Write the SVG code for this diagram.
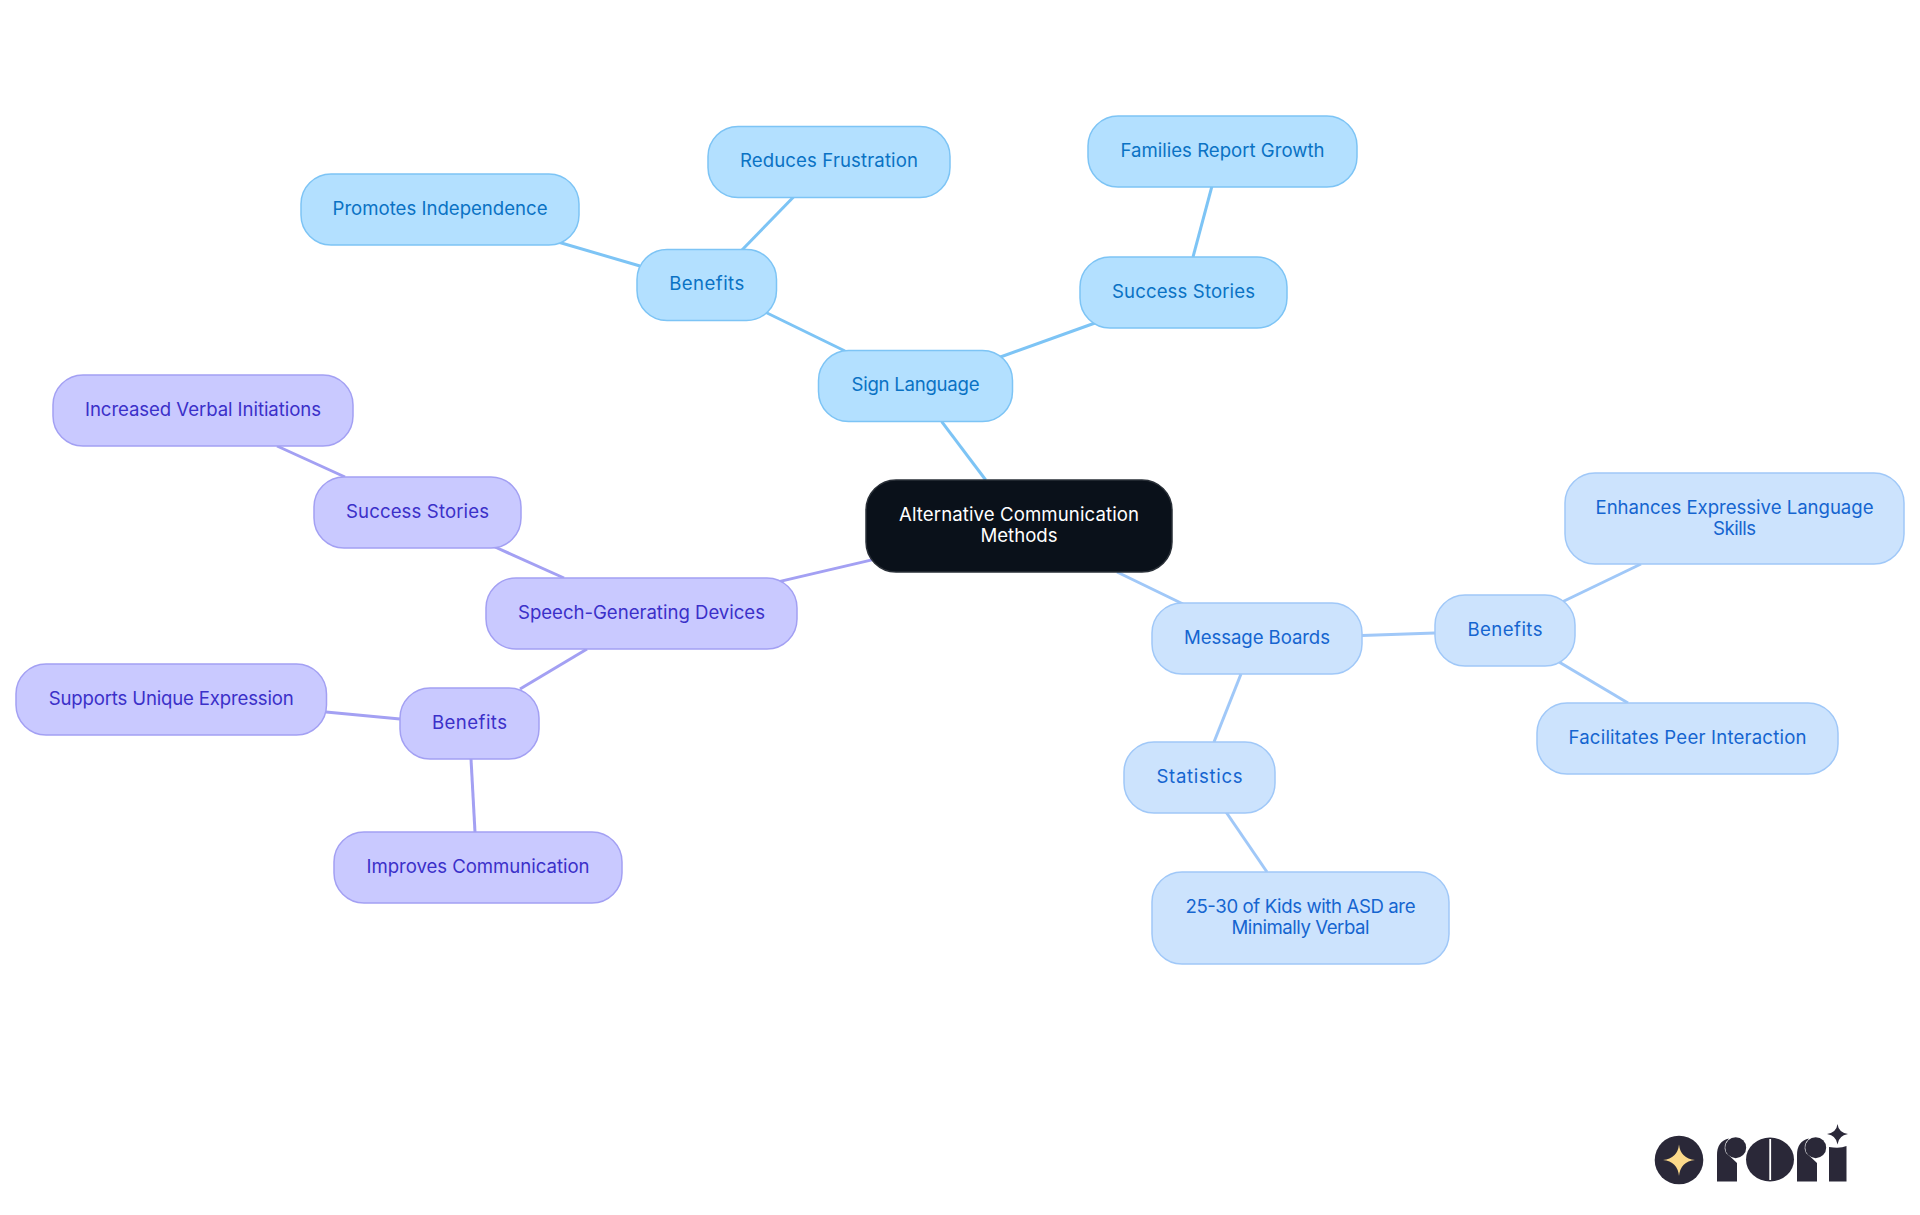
<svg xmlns="http://www.w3.org/2000/svg" width="1920" height="1215" viewBox="0 0 1920 1215">
<style>
.n{stroke-width:1.5}
text{font-family:"Inter","Noto Sans","Liberation Sans",sans-serif;font-size:18.6px;text-anchor:middle}
.s rect{fill:#b3e0ff;stroke:#7dc4f5}.s text{fill:#0a72c4}
.p rect{fill:#c9c9ff;stroke:#a3a0f3}.p text{fill:#3b30c9}
.b rect{fill:#cce3fd;stroke:#a0c8f8}.b text{fill:#1565d0}
.c rect{fill:#0a111a;stroke:#2a3038}.c text{fill:#fff}
#connectors line{stroke-width:3;fill:none}
.ls{stroke:#7dc4f5}.lp{stroke:#a3a0f3}.lb{stroke:#a0c8f8}
.logo{fill:#2a2838}
</style>
<rect width="1920" height="1215" fill="#fff"/>
<g id="connectors">
<line class="ls" x1="985.7" y1="480" x2="941.7" y2="421.7"/>
<line class="ls" x1="845" y1="351" x2="765" y2="312"/>
<line class="ls" x1="742" y1="250" x2="793.5" y2="197"/>
<line class="ls" x1="640" y1="266" x2="558" y2="242"/>
<line class="ls" x1="999" y1="357.5" x2="1095" y2="323"/>
<line class="ls" x1="1193" y1="257" x2="1212" y2="186"/>
<line class="lb" x1="1117" y1="572" x2="1183" y2="604"/>
<line class="lb" x1="1362" y1="635.5" x2="1435" y2="633"/>
<line class="lb" x1="1562" y1="602" x2="1641" y2="564"/>
<line class="lb" x1="1559" y1="662" x2="1628" y2="703"/>
<line class="lb" x1="1241" y1="674" x2="1214" y2="742"/>
<line class="lb" x1="1226" y1="812" x2="1267" y2="872"/>
<line class="lp" x1="873" y1="559.6" x2="779" y2="581.6"/>
<line class="lp" x1="564" y1="578" x2="495" y2="547"/>
<line class="lp" x1="345" y1="477" x2="277" y2="446"/>
<line class="lp" x1="587" y1="649" x2="520" y2="689"/>
<line class="lp" x1="400" y1="719" x2="326" y2="712"/>
<line class="lp" x1="471" y1="759" x2="475" y2="832"/>
</g>
<g id="root" class="c n"><rect x="866" y="480" width="306" height="92" rx="30"/><text x="1019" y="521" textLength="240">Alternative Communication</text><text x="1019" y="542" textLength="77">Methods</text></g>
<g id="sign-language" class="s n"><rect x="818.5" y="350.5" width="194" height="71" rx="30"/><text x="915.5" y="391" textLength="128">Sign Language</text></g>
<g id="sl-benefits" class="s n"><rect x="637" y="249.5" width="139.500" height="71" rx="30"/><text x="706.750" y="290" textLength="75">Benefits</text></g>
<g id="reduces" class="s n"><rect x="708" y="126.500" width="242" height="71" rx="30"/><text x="829" y="167" textLength="178">Reduces Frustration</text></g>
<g id="promotes" class="s n"><rect x="301" y="174" width="278" height="71" rx="30"/><text x="440" y="215" textLength="215">Promotes Independence</text></g>
<g id="sl-success" class="s n"><rect x="1080" y="257" width="207" height="71" rx="30"/><text x="1183.500" y="298" textLength="143">Success Stories</text></g>
<g id="families" class="s n"><rect x="1088" y="116" width="269" height="71" rx="30"/><text x="1222.500" y="157" textLength="204">Families Report Growth</text></g>
<g id="message-boards" class="b n"><rect x="1152" y="603" width="210" height="71" rx="30"/><text x="1257" y="644" textLength="146">Message Boards</text></g>
<g id="mb-benefits" class="b n"><rect x="1435" y="595" width="140" height="71" rx="30"/><text x="1505" y="636" textLength="75">Benefits</text></g>
<g id="enhances" class="b n"><rect x="1565" y="473" width="339" height="91" rx="30"/><text x="1734.500" y="513.500" textLength="278">Enhances Expressive Language</text><text x="1734.500" y="534.500" textLength="43">Skills</text></g>
<g id="facilitates" class="b n"><rect x="1537" y="703" width="301" height="71" rx="30"/><text x="1687.500" y="744" textLength="238">Facilitates Peer Interaction</text></g>
<g id="statistics" class="b n"><rect x="1124" y="742" width="151" height="71" rx="30"/><text x="1199.500" y="783" textLength="86">Statistics</text></g>
<g id="asd" class="b n"><rect x="1152" y="872" width="297" height="92" rx="30"/><text x="1300.500" y="913" textLength="230">25-30 of Kids with ASD are</text><text x="1300.500" y="934" textLength="138">Minimally Verbal</text></g>
<g id="speech" class="p n"><rect x="486" y="578" width="311" height="71" rx="30"/><text x="641.500" y="619" textLength="247">Speech-Generating Devices</text></g>
<g id="sp-success" class="p n"><rect x="314" y="477" width="207" height="71" rx="30"/><text x="417.500" y="518" textLength="143">Success Stories</text></g>
<g id="increased" class="p n"><rect x="53" y="375" width="300" height="71" rx="30"/><text x="203" y="416" textLength="236">Increased Verbal Initiations</text></g>
<g id="sp-benefits" class="p n"><rect x="400" y="688" width="139" height="71" rx="30"/><text x="469.500" y="729" textLength="75">Benefits</text></g>
<g id="supports" class="p n"><rect x="16" y="664" width="310.500" height="71" rx="30"/><text x="171.250" y="705" textLength="245">Supports Unique Expression</text></g>
<g id="improves" class="p n"><rect x="334" y="832" width="288" height="71" rx="30"/><text x="478" y="873" textLength="223">Improves Communication</text></g>
<g id="logo">
<circle class="logo" cx="1679" cy="1160" r="24.300"/>
<path fill="#fbd98a" d="M1679 1144.500Q1680.500 1158.500 1695 1160Q1680.500 1161.500 1679 1176Q1677.500 1161.500 1663 1160Q1677.500 1158.500 1679 1144.500Z"/>
<path class="logo" d="M1717 1181.500V1155Q1717 1141 1729 1138.500Q1722 1145 1726 1153Q1732 1158 1737 1163V1181.500Z"/>
<circle class="logo" cx="1735.700" cy="1147.700" r="10.500"/>
<ellipse class="logo" cx="1770" cy="1159.500" rx="24" ry="22"/>
<rect x="1769.300" y="1139" width="1.800" height="41" fill="#fff"/>
<path class="logo" d="M1797 1181.500V1155Q1797 1141 1809 1138.500Q1802 1145 1806 1153Q1812 1158 1817 1163V1181.500Z"/>
<circle class="logo" cx="1815.700" cy="1147.700" r="10.500"/>
<path class="logo" d="M1829 1181.500V1147Q1840 1149 1846.500 1146V1181.500Z"/>
<path class="logo" d="M1837.500 1124Q1838.500 1132.500 1848 1134Q1838.500 1135.500 1837.500 1144.500Q1836.500 1135.500 1827 1134Q1836.500 1132.500 1837.500 1124Z"/>
</g>
</svg>
